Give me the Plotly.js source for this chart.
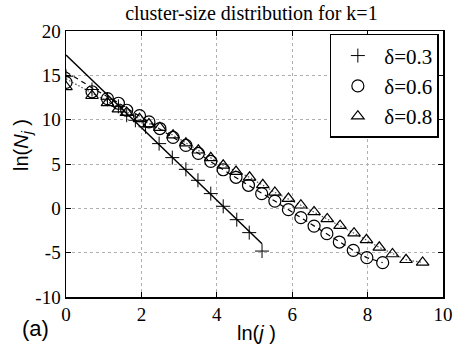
<!DOCTYPE html>
<html>
<head>
<meta charset="utf-8">
<script src="https://cdn.plot.ly/plotly-3.0.1.min.js"></script>
<style>html,body{margin:0;padding:0;background:#fff;}#chart{width:453px;height:348px;}</style>
</head>
<body>
<div id="chart"></div>
<script>
// delta = 0.3 (plus markers)
const xPlus = [0, 0.69, 1.10, 1.39, 1.61, 1.84, 2.11, 2.47, 2.82, 3.18, 3.50, 3.84, 4.17, 4.53, 4.86, 5.20];
const yPlus = [14.9, 13.4, 12.3, 11.5, 10.5, 9.93, 9.2, 7.30, 5.72, 4.40, 3.16, 1.66, 0.23, -1.28, -2.74, -4.82];
// delta = 0.6 (circle markers)
const xCirc = [0, 0.69, 1.10, 1.39, 1.61, 1.95, 2.20, 2.49, 2.84, 3.18, 3.51, 3.84, 4.17, 4.51, 4.84, 5.19, 5.54, 5.90, 6.23, 6.58, 6.92, 7.25, 7.62, 7.98, 8.40];
const yCirc = [14.2, 13.15, 12.38, 11.85, 11.06, 10.45, 9.75, 9.0, 8.0, 7.1, 6.2, 5.3, 4.35, 3.5, 2.6, 1.66, 0.82, -0.15, -1.05, -2.0, -2.86, -3.8, -4.74, -5.56, -6.13];
// delta = 0.8 (triangle markers)
const xTri = [0, 0.69, 1.10, 1.39, 1.61, 1.95, 2.20, 2.49, 2.84, 3.18, 3.51, 3.84, 4.17, 4.51, 4.87, 5.22, 5.54, 5.90, 6.23, 6.58, 6.93, 7.27, 7.64, 7.97, 8.31, 8.66, 9.02, 9.46];
const yTri = [13.7, 12.7, 11.9, 11.2, 10.8, 10.1, 9.5, 9.1, 8.25, 7.35, 6.55, 5.7, 4.85, 4.15, 3.5, 2.65, 1.8, 1.1, 0.35, -0.4, -1.2, -1.95, -2.8, -3.55, -4.4, -5.15, -5.8, -6.1];
// theory / fit lines
const xSolid = [0, 5.2];
const ySolid = [17.3, -4.0];
const xDash = [0, 0.69, 1.39, 2.08, 2.84, 3.51, 4.17, 4.84, 5.54, 6.23, 6.92, 7.62, 7.98, 8.40];
const yDash = [15.4, 13.6, 11.9, 10.0, 8.0, 6.2, 4.35, 2.6, 0.82, -1.05, -2.86, -4.74, -5.56, -6.13];
const xDot = [0, 0.69, 1.39, 2.08, 2.84, 3.51, 4.17, 4.87, 5.54, 6.23, 6.93, 7.64, 8.31, 9.02, 9.46];
const yDot = [14.6, 13.0, 11.4, 9.8, 8.25, 6.55, 4.85, 3.5, 1.8, 0.35, -1.2, -2.8, -4.4, -5.8, -6.1];
// ticks
const xTickVals = [0, 2, 4, 6, 8, 10];
const xTickText = ['0', '2', '4', '6', '8', '10'];
const yTickVals = [-10, -5, 0, 5, 10, 15, 20];
const yTickText = ['-10', '-5', '0', '5', '10', '15', '20'];
const legendNames = ['\u03b4=0.3', '\u03b4=0.6', '\u03b4=0.8'];

const serif = 'Liberation Serif, Times New Roman, serif';
const sans = 'Liberation Sans, Arial, sans-serif';
const mline = {color: '#000', width: 1.2};

const traces = [
  {x: xSolid, y: ySolid, mode: 'lines', line: {color: '#000', width: 1.5}, showlegend: false, hoverinfo: 'skip'},
  {x: xDash, y: yDash, mode: 'lines', line: {color: '#000', width: 1.2, dash: '5px,4px'}, showlegend: false, hoverinfo: 'skip'},
  {x: xDot, y: yDot, mode: 'lines', line: {color: '#555', width: 1.2, dash: '1.5px,2px'}, showlegend: false, hoverinfo: 'skip'},
  {x: xPlus, y: yPlus, mode: 'markers', name: legendNames[0],
   marker: {symbol: 'cross-thin-open', size: 10, color: '#000', line: {color: '#000', width: 1}}},
  {x: xCirc, y: yCirc, mode: 'markers', name: legendNames[1],
   marker: {symbol: 'circle-open', size: 12, color: '#000', line: mline}},
  {x: xTri, y: yTri, mode: 'markers', name: legendNames[2],
   marker: {symbol: 'triangle-up-open', size: 11, color: '#000', line: mline}}
];

const layout = {
  width: 453, height: 348,
  margin: {l: 66, r: 10, t: 31, b: 51},
  paper_bgcolor: '#fff', plot_bgcolor: '#fff',
  showlegend: true,
  title: {text: 'cluster-size distribution for k=1', font: {family: serif, size: 20, color: '#000'},
          x: 0.555, xanchor: 'center', y: 0.962, yanchor: 'middle'},
  xaxis: {range: [0, 10], tickvals: xTickVals, ticktext: xTickText, ticks: 'inside', ticklen: 5,
          tickcolor: '#000', tickwidth: 1, showline: true, linecolor: '#000', linewidth: 1.5, mirror: 'ticks',
          showgrid: true, gridcolor: '#b0b0b0', gridwidth: 1, griddash: 'dot', zeroline: false,
          tickfont: {family: serif, size: 19, color: '#000'}},
  yaxis: {range: [-10, 20], tickvals: yTickVals, ticktext: yTickText, ticks: 'inside', ticklen: 5,
          tickcolor: '#000', tickwidth: 1, showline: true, linecolor: '#000', linewidth: 1.5, mirror: 'ticks',
          showgrid: true, gridcolor: '#b0b0b0', gridwidth: 1, griddash: 'dot', zeroline: false,
          tickfont: {family: serif, size: 19, color: '#000'}},
  legend: {x: 0.989, xanchor: 'right', y: 0.989, yanchor: 'top', bgcolor: '#fff',
           bordercolor: '#000', borderwidth: 1.5, font: {family: serif, size: 21, color: '#000'},
           itemwidth: 43, tracegroupgap: 0},
  annotations: [
    {text: 'ln(<i>N</i><sub><i>j</i></sub> )', xref: 'paper', yref: 'paper', x: -0.115, y: 0.57,
     xanchor: 'center', yanchor: 'middle', textangle: -90, showarrow: false,
     font: {family: sans, size: 20, color: '#000'}},
    {text: 'ln(<i>j</i> )', xref: 'paper', yref: 'paper', x: 0.505, y: -0.135,
     xanchor: 'center', yanchor: 'middle', showarrow: false,
     font: {family: sans, size: 20, color: '#000'}},
    {text: '(a)', xref: 'paper', yref: 'paper', x: -0.08, y: -0.12,
     xanchor: 'center', yanchor: 'middle', showarrow: false,
     font: {family: sans, size: 22, color: '#000'}}
  ]
};

Plotly.newPlot('chart', traces, layout, {staticPlot: true, displayModeBar: false});
</script>
</body>
</html>
